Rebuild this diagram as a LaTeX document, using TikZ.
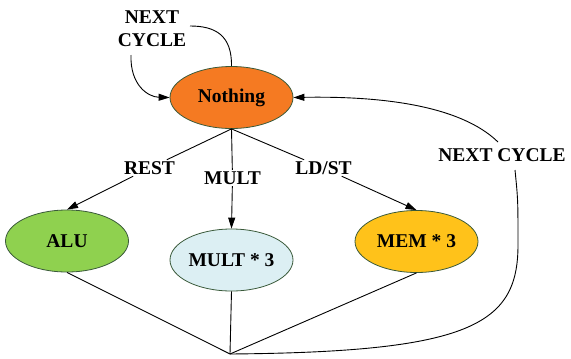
\documentclass[tikz,border=0pt]{standalone}
\usepackage{fontspec}
\setmainfont{Liberation Serif}
\usetikzlibrary{shapes.geometric,arrows.meta}
\definecolor{orangeN}{HTML}{F57A22}
\definecolor{greenA}{HTML}{8FD14F}
\definecolor{blueM}{HTML}{DCEFF3}
\definecolor{goldE}{HTML}{FFC21A}
\definecolor{rimc}{HTML}{3A5A3A}
\tikzset{
  state/.style={ellipse, draw=rimc, line width=0.8pt, minimum width=123pt, minimum height=62pt, inner sep=0pt,
    font=\fontsize{19.5}{23}\selectfont\bfseries},
  lbl/.style={inner sep=1.5pt, font=\fontsize{19.5}{23}\selectfont\bfseries},
  conn/.style={line width=0.9pt, black},
  arr/.style={conn, -{Triangle[length=11pt,width=7pt]}}
}
\begin{document}
\begin{tikzpicture}[x=1pt,y=-1pt]
\useasboundingbox (0,0) rectangle (571,359);
\node[state, fill=orangeN] (N) at (231.5,97.5) {Nothing};
\node[state, fill=greenA] (A) at (67,241) {ALU};
\node[state, fill=blueM] (M) at (231.5,260) {MULT * 3};
\node[state, fill=goldE] (E) at (416.5,241.5) {MEM * 3};
\node[lbl] (rest) at (149.5,168) {REST};
\node[lbl] (mul) at (232.5,178) {MULT};
\node[lbl] (ld) at (323.5,168) {LD/ST};
\node[lbl, align=center] (top) at (152,29) {NEXT\\CYCLE};
\node[lbl] (nc) at (502,155) {NEXT CYCLE};
\coordinate (J) at (230,354);
\coordinate (t1) at (190,26);
\coordinate (t2) at (131,55);
\coordinate (r1) at (515,170);
\coordinate (r2) at (498,142);
% branches
\draw[conn] (N.south) -- (rest);
\draw[arr] (rest) -- (A.north);
\draw[conn] (N.south) -- (mul);
\draw[arr] (mul) -- (M.north);
\draw[conn] (N.south) -- (ld);
\draw[arr] (ld) -- (E.north);
% merge
\draw[conn] (A.south) -- (J);
\draw[conn] (M.south) -- (J);
\draw[conn] (E.south) -- (J);
% loop back right
\draw[conn] (J) .. controls (470,352) and (518,325) .. (518,245) .. controls (518,200) .. (r1);
\draw[arr] (r2) .. controls (460,105) and (380,96) .. (N.east);
% self loop top
\draw[conn] (N.north) .. controls (232,35) and (215,26) .. (t1);
\draw[arr] (t2) .. controls (130,85) and (148,97) .. (N.west);
\end{tikzpicture}
\end{document}
